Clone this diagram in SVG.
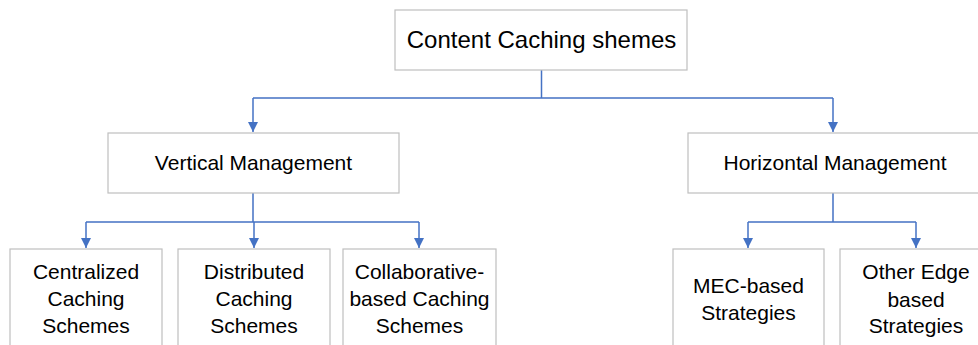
<svg xmlns="http://www.w3.org/2000/svg" width="978" height="345" viewBox="0 0 978 345">
<style>
.box{fill:#fff;stroke:#bfbfbf;stroke-width:1.2}
.t{font-family:"Liberation Sans",Arial,sans-serif;font-size:21px;fill:#000;text-anchor:middle}
.c{fill:none;stroke:#4472c4;stroke-width:1.5}
</style>
<defs>
<marker id="ah" markerUnits="userSpaceOnUse" markerWidth="12" markerHeight="12" viewBox="0 0 12 12" refX="10" refY="6" orient="auto">
<path d="M0,1 L10,6 L0,11 Z" fill="#4472c4"/>
</marker>
</defs>
<rect width="978" height="345" fill="#fff"/>
<g id="connectors">
<path class="c" d="M541.5 70 V98 M253 98 H833"/>
<path class="c" d="M253 98 V132" marker-end="url(#ah)"/>
<path class="c" d="M833 98 V132" marker-end="url(#ah)"/>
<path class="c" d="M253 193 V222 M86 222 H419"/>
<path class="c" d="M86 222 V248" marker-end="url(#ah)"/>
<path class="c" d="M254 222 V248" marker-end="url(#ah)"/>
<path class="c" d="M419 222 V248" marker-end="url(#ah)"/>
<path class="c" d="M833 193 V222 M748 222 H916"/>
<path class="c" d="M748 222 V248" marker-end="url(#ah)"/>
<path class="c" d="M916 222 V248" marker-end="url(#ah)"/>
</g>
<g id="root">
<rect class="box" x="395" y="10" width="292" height="60"/>
<text class="t" x="541.5" y="48" style="font-size:24px">Content Caching shemes</text>
</g>
<g id="vertical">
<rect class="box" x="108" y="133" width="291" height="60"/>
<text class="t" x="253.5" y="170">Vertical Management</text>
</g>
<g id="horizontal">
<rect class="box" x="688" y="133" width="300" height="60"/>
<text class="t" x="835" y="170">Horizontal Management</text>
</g>
<g id="centralized">
<rect class="box" x="10" y="249" width="152" height="110"/>
<text class="t" x="86" y="279">Centralized</text>
<text class="t" x="86" y="306">Caching</text>
<text class="t" x="86" y="333">Schemes</text>
</g>
<g id="distributed">
<rect class="box" x="178" y="249" width="152" height="110"/>
<text class="t" x="254" y="279">Distributed</text>
<text class="t" x="254" y="306">Caching</text>
<text class="t" x="254" y="333">Schemes</text>
</g>
<g id="collaborative">
<rect class="box" x="343" y="249" width="153" height="110"/>
<text class="t" x="419.5" y="279">Collaborative-</text>
<text class="t" x="419.5" y="306">based Caching</text>
<text class="t" x="419.5" y="333">Schemes</text>
</g>
<g id="mec">
<rect class="box" x="673" y="249" width="151" height="110"/>
<text class="t" x="748.5" y="293">MEC-based</text>
<text class="t" x="748.5" y="320">Strategies</text>
</g>
<g id="otheredge">
<rect class="box" x="840" y="249" width="150" height="110"/>
<text class="t" x="916" y="279">Other Edge</text>
<text class="t" x="916" y="307">based</text>
<text class="t" x="916" y="333">Strategies</text>
</g>
</svg>
